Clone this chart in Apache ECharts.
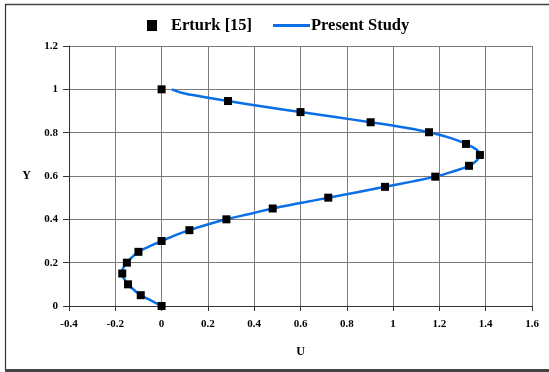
<!DOCTYPE html>
<html><head><meta charset="utf-8">
<script src="https://cdn.jsdelivr.net/npm/echarts@6/dist/echarts.min.js"></script>
<style>html,body{margin:0;padding:0;background:#fff}#c{width:549px;height:372px}</style>
</head><body><div id="c"></div>
<script>
// Erturk [15] reference points: U values and Y values
const erturkU = [0, -0.09, -0.145, -0.17, -0.15, -0.1, 0, 0.12, 0.28, 0.48, 0.72, 0.965, 1.182, 1.328, 1.375, 1.315, 1.155, 0.903, 0.6, 0.287, 0];
const erturkY = [0, 0.05, 0.1, 0.15, 0.2, 0.25, 0.3, 0.35, 0.4, 0.45, 0.5, 0.55, 0.597, 0.647, 0.697, 0.748, 0.802, 0.848, 0.895, 0.946, 1.0];
// Present Study curve
const studyU = [0, -0.045, -0.09, -0.12, -0.145, -0.162, -0.172, -0.166, -0.15, -0.128, -0.1, -0.053, 0, 0.055, 0.12, 0.195, 0.28, 0.38, 0.48, 0.6, 0.72, 0.845, 0.965, 1.08, 1.182, 1.262, 1.328, 1.362, 1.375, 1.36, 1.315, 1.25, 1.155, 1.04, 0.903, 0.75, 0.6, 0.445, 0.287, 0.17, 0.095, 0.044];
const studyY = [0, 0.025, 0.05, 0.075, 0.1, 0.125, 0.15, 0.175, 0.2, 0.225, 0.25, 0.275, 0.3, 0.325, 0.35, 0.375, 0.4, 0.425, 0.45, 0.475, 0.5, 0.525, 0.55, 0.574, 0.597, 0.622, 0.647, 0.672, 0.697, 0.722, 0.748, 0.775, 0.802, 0.825, 0.848, 0.872, 0.895, 0.92, 0.946, 0.967, 0.982, 1.0];
const xTicks = [-0.4, -0.2, 0, 0.2, 0.4, 0.6, 0.8, 1, 1.2, 1.4, 1.6];
const yTicks = [0, 0.2, 0.4, 0.6, 0.8, 1, 1.2];

const font = '"Liberation Serif", "DejaVu Serif", serif';
const blue = '#0a6ee6';
const legendText = {fontFamily: font, fontWeight: 'bold', fontSize: 16.5, color: '#000'};
const chart = echarts.init(document.getElementById('c'));
chart.setOption({
  animation: false,
  backgroundColor: '#fff',
  graphic: [
    {type:'line', shape:{x1:5,y1:4.5,x2:549,y2:4.5}, style:{stroke:'#444',lineWidth:1.5}},
    {type:'line', shape:{x1:5.5,y1:4,x2:5.5,y2:370}, style:{stroke:'#333',lineWidth:1.2}},
    {type:'line', shape:{x1:5,y1:370.5,x2:549,y2:370.5}, style:{stroke:'#444',lineWidth:3}}
  ],
  legend: [
    {
      top: 12, left: 142, itemWidth: 10, itemHeight: 11,
      textStyle: Object.assign({padding: [0, 0, 0, 9]}, legendText),
      data: [{name: 'Erturk [15]', icon: 'rect', itemStyle:{color:'#000', opacity: 1}}]
    },
    {
      top: 12, left: 268, itemWidth: 37, itemHeight: 3,
      textStyle: Object.assign({padding: [0, 0, 0, -4]}, legendText),
      data: [{name: 'Present Study', icon: 'rect', itemStyle:{color: blue}}]
    }
  ],
  grid: {left: 69, right: 17, top: 46, bottom: 66},
  xAxis: {
    type: 'value', min: -0.4, max: 1.6, interval: 0.2,
    name: 'U', nameLocation: 'middle', nameGap: 40,
    nameTextStyle: {fontFamily: font, fontWeight: 'bold', fontSize: 12, color: '#000'},
    axisLine: {onZero: false, lineStyle: {color: '#333', width: 1}},
    axisTick: {show: true, inside: false, length: 5, lineStyle: {color: '#333'}},
    axisLabel: {fontFamily: font, fontWeight: 'bold', fontSize: 11, color: '#000', margin: 13,
      formatter: v => { const t = xTicks.find(k => Math.abs(k - v) < 1e-6); return t === undefined ? '' : String(t); }},
    splitLine: {show: true, lineStyle: {color: '#7a7a7a', width: 1}}
  },
  yAxis: {
    type: 'value', min: 0, max: 1.2, interval: 0.2,
    name: 'Y', nameLocation: 'middle', nameGap: 38, nameRotate: 0,
    nameTextStyle: {fontFamily: font, fontWeight: 'bold', fontSize: 12, color: '#000'},
    axisLine: {show: true, onZero: false, lineStyle: {color: '#333', width: 1}},
    axisTick: {show: true, inside: false, length: 6, lineStyle: {color: '#333'}},
    axisLabel: {fontFamily: font, fontWeight: 'bold', fontSize: 11, color: '#000', margin: 11,
      formatter: v => { const t = yTicks.find(k => Math.abs(k - v) < 1e-6); return t === undefined ? '' : String(t); }},
    splitLine: {show: true, lineStyle: {color: '#7a7a7a', width: 1}}
  },
  series: [
    {
      name: 'Present Study', type: 'line', smooth: 0.4, showSymbol: false, symbol: 'none',
      lineStyle: {color: blue, width: 2.5}, itemStyle: {color: blue},
      data: studyU.map((u, i) => [u, studyY[i]]), z: 2
    },
    {
      name: 'Erturk [15]', type: 'scatter', symbol: 'rect', symbolSize: 8,
      itemStyle: {color: '#000', opacity: 1},
      data: erturkU.map((u, i) => [u, erturkY[i]]), z: 3
    }
  ]
});
</script></body></html>
